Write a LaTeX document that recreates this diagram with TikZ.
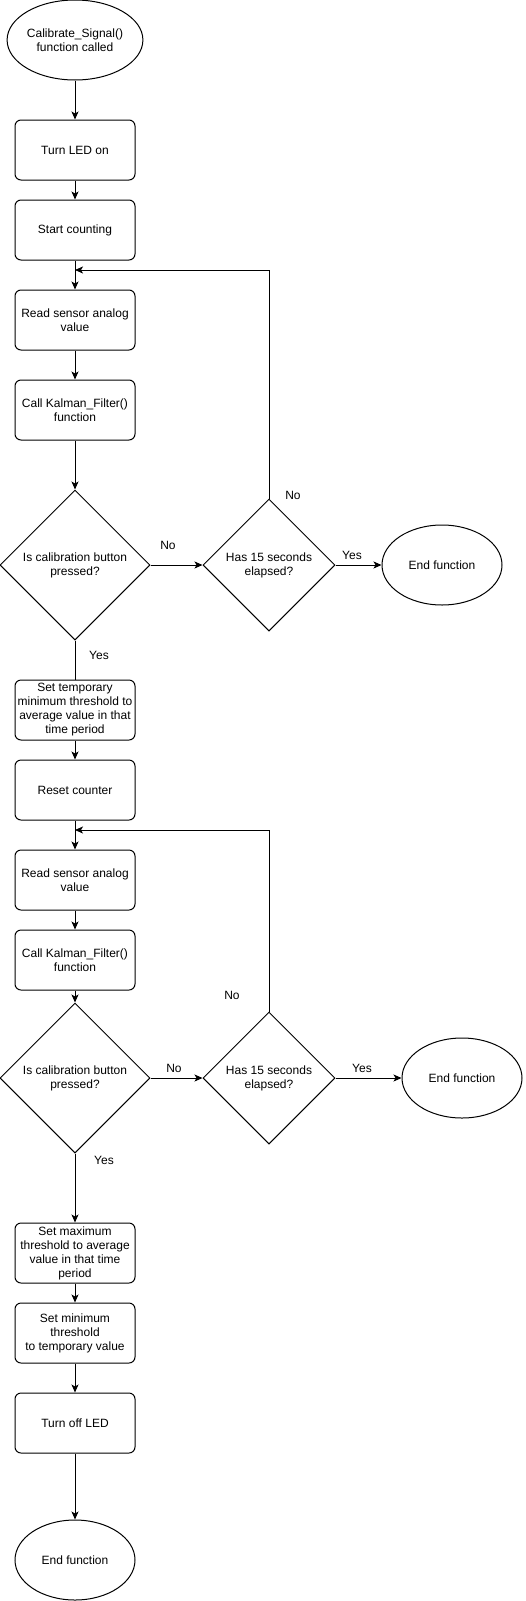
\documentclass[tikz,border=0pt]{standalone}
\usepackage{fontspec}
\setmainfont{Liberation Sans}
\usetikzlibrary{shapes.geometric,arrows.meta}

\begin{document}
\begin{tikzpicture}[x=1pt,y=-1pt,line width=1pt,
        font=\fontsize{12}{14}\selectfont,
        stepbox/.style={draw,rounded corners=6pt,minimum width=120pt,minimum height=60pt,align=center,inner sep=0pt},
        terminal/.style={draw,ellipse,minimum width=120pt,minimum height=80pt,align=center,inner sep=0pt},
        decision/.style={draw,diamond,minimum width=#1,minimum height=#1,align=center,inner sep=0pt},
        flow/.style={-{Stealth[length=8pt,width=7pt,inset=2pt]}},
        answer/.style={inner sep=0pt}]
        \useasboundingbox (0,0) rectangle (526,1601);
        \node[terminal] (start) at (75,40) {Calibrate\_Signal()\\function called};
        \node[stepbox] (ledon) at (75,150) {Turn LED on};
        \node[stepbox] (count) at (75,230) {Start counting};
        \node[stepbox] (read1) at (75,320) {Read sensor analog\\value};
        \node[stepbox] (kalman1) at (75,410) {Call Kalman\_Filter()\\function};
        \node[decision=150pt] (press1) at (75,565) {Is calibration button\\pressed?};
        \node[decision=132pt] (elapsed1) at (269,565) {Has 15 seconds\\elapsed?};
        \node[terminal] (end1) at (442,565) {End function};
        \node[stepbox] (settemp) at (75,710) {Set temporary\\minimum threshold to\\average value in that\\time period};
        \node[stepbox] (reset) at (75,790) {Reset counter};
        \node[stepbox] (read2) at (75,880) {Read sensor analog\\value};
        \node[stepbox] (kalman2) at (75,960) {Call Kalman\_Filter()\\function};
        \node[decision=150pt] (press2) at (75,1078) {Is calibration button\\pressed?};
        \node[decision=132pt] (elapsed2) at (269,1078) {Has 15 seconds\\elapsed?};
        \node[terminal] (end2) at (462,1078) {End function};
        \node[stepbox] (setmax) at (75,1253) {Set maximum\\threshold to average\\value in that time\\period};
        \node[stepbox] (setmin) at (75,1333) {Set minimum\\threshold\\to temporary value};
        \node[stepbox] (ledoff) at (75,1423) {Turn off LED};
        \node[terminal] (end3) at (75,1560) {End function};
        \coordinate (loop1) at (75,270);
        \coordinate (loop2) at (75,830);
        \node[answer] (no1) at (168,545) {No};
        \node[answer] (yes1) at (352,555) {Yes};
        \node[answer] (noup1) at (293,495) {No};
        \node[answer] (yesdown1) at (99,655) {Yes};
        \node[answer] (no2) at (174,1068) {No};
        \node[answer] (yes2) at (362,1068) {Yes};
        \node[answer] (noup2) at (232,995) {No};
        \node[answer] (yesdown2) at (104,1160) {Yes};
        \draw[flow] (start) -- (ledon);
        \draw[flow] (ledon) -- (count);
        \draw[flow] (count) -- (read1);
        \draw[flow] (read1) -- (kalman1);
        \draw[flow] (kalman1) -- (press1);
        \draw[flow] (press1) -- (elapsed1);
        \draw[flow] (elapsed1) -- (end1);
        \draw[flow] (elapsed1.north) |- (loop1);
        \draw (press1) -- (settemp);
        \draw[flow] (settemp) -- (reset);
        \draw[flow] (reset) -- (read2);
        \draw[flow] (read2) -- (kalman2);
        \draw[flow] (kalman2) -- (press2);
        \draw[flow] (press2) -- (elapsed2);
        \draw[flow] (elapsed2) -- (end2);
        \draw[flow] (elapsed2.north) |- (loop2);
        \draw[flow] (press2) -- (setmax);
        \draw[flow] (setmax) -- (setmin);
        \draw[flow] (setmin) -- (ledoff);
        \draw[flow] (ledoff) -- (end3);
      \end{tikzpicture}
\end{document}
